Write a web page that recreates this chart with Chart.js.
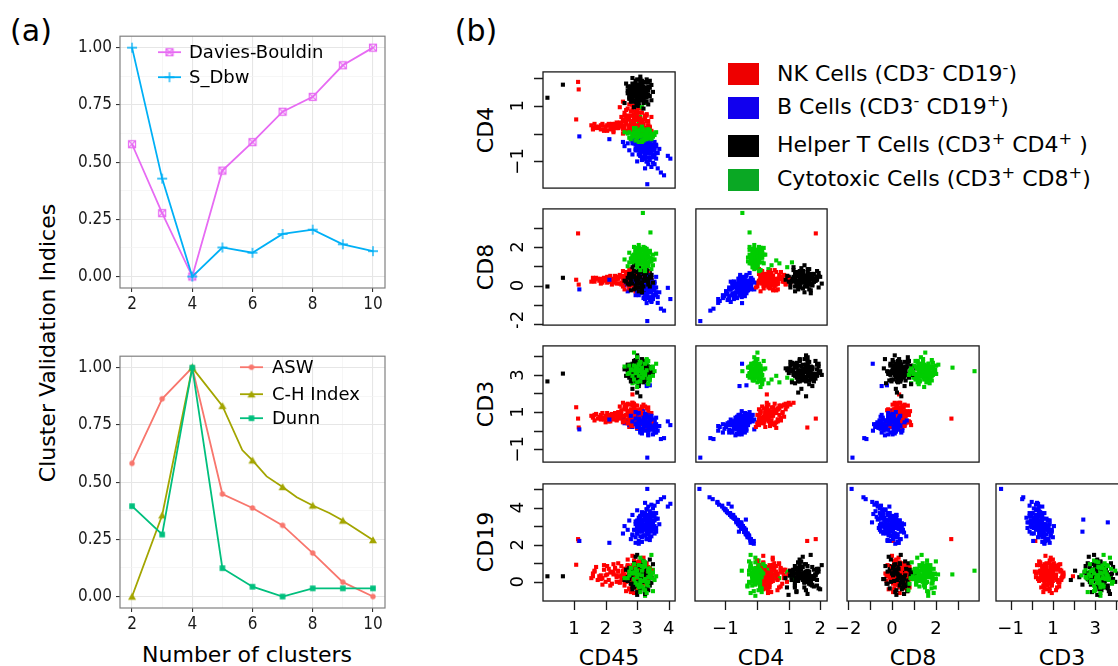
<!DOCTYPE html>
<html>
<head>
<meta charset="utf-8">
<script src="https://cdn.jsdelivr.net/npm/chart.js@4.4.1/dist/chart.umd.min.js"></script>
<style>
  body { margin: 0; background: #fff; }
  #fig { position: relative; width: 1118px; height: 666px; overflow: hidden; background: #fff;
         font-family: "DejaVu Sans", sans-serif; color: #000; }
  #fig canvas { position: absolute; }
  .txt { position: absolute; white-space: nowrap; line-height: 1; transform: translate(-50%, -50%); }
  .vert { position: absolute; white-space: nowrap; line-height: 1; transform: translate(-50%, -50%) rotate(-90deg); }
  .swatch { position: absolute; width: 31px; height: 22px; }
  .key { position: absolute; white-space: nowrap; line-height: 1; transform: translateY(-50%); font-size: 22px; }
  .key sup { font-size: 0.74em; line-height: 0; vertical-align: 0.5em; }
</style>
</head>
<body>
<div id="fig">
  <div class="txt" style="left:31px;top:31px;font-size:30px;">(a)</div>
  <div class="txt" style="left:476px;top:31px;font-size:30px;">(b)</div>
  <div class="vert" style="left:48px;top:343px;font-size:22px;">Cluster Validation Indices</div>
  <div class="txt" style="left:247px;top:655px;font-size:22px;">Number of clusters</div>

  <div class="swatch" style="left:728px;top:63px;background:#ee0000;"></div>
  <div class="swatch" style="left:728px;top:97px;background:#1100ee;"></div>
  <div class="swatch" style="left:728px;top:135px;background:#000000;"></div>
  <div class="swatch" style="left:728px;top:169px;background:#0aa824;"></div>
  <div class="key" style="left:777px;top:74px;">NK Cells (CD3<sup>-</sup> CD19<sup>-</sup>)</div>
  <div class="key" style="left:777px;top:107px;">B Cells (CD3<sup>-</sup> CD19<sup>+</sup>)</div>
  <div class="key" style="left:777px;top:145px;">Helper T Cells (CD3<sup>+</sup> CD4<sup>+</sup> )</div>
  <div class="key" style="left:777px;top:179px;">Cytotoxic Cells (CD3<sup>+</sup> CD8<sup>+</sup>)</div>

  <div class="vert" style="left:486px;top:130px;font-size:22px;">CD4</div>
  <div class="vert" style="left:486px;top:267px;font-size:22px;">CD8</div>
  <div class="vert" style="left:486px;top:404px;font-size:22px;">CD3</div>
  <div class="vert" style="left:486px;top:542px;font-size:22px;">CD19</div>
  <div class="txt" style="left:609px;top:658px;font-size:22px;">CD45</div>
  <div class="txt" style="left:761px;top:658px;font-size:22px;">CD4</div>
  <div class="txt" style="left:913px;top:658px;font-size:22px;">CD8</div>
  <div class="txt" style="left:1062px;top:658px;font-size:22px;">CD3</div>
</div>
<script>
// ---------- (a) cluster validation indices ----------
const clusterCounts = [2, 3, 4, 5, 6, 7, 8, 9, 10];
const daviesBouldin = [0.578, 0.277, 0.0, 0.463, 0.587, 0.720, 0.785, 0.923, 1.0];
const sDbw          = [1.0, 0.428, 0.0, 0.127, 0.104, 0.186, 0.205, 0.141, 0.111];
const asw           = [0.582, 0.864, 1.0, 0.448, 0.387, 0.311, 0.190, 0.063, 0.0];
const chIndex       = [0.0, 0.355, 1.0, 0.833, 0.595, 0.479, 0.398, 0.332, 0.247];
const chBendX       = [5.66, 6.47, 7.47, 8.55];
const chBendY       = [0.640, 0.525, 0.434, 0.365];
const dunn          = [0.395, 0.271, 1.0, 0.124, 0.043, 0.0, 0.036, 0.036, 0.036];

// ---------- (b) marker expression per cell: [CD45, CD4, CD8, CD3, CD19] ----------
const markers = ['CD45', 'CD4', 'CD8', 'CD3', 'CD19'];

const nkCells = [
  [2.80,0.30,0.25,0.80,0.35],[2.60,0.10,0.45,0.55,0.70],[3.00,0.50,0.05,1.00,0.05],[2.90,0.70,0.35,1.20,-0.30],
  [2.70,0.05,0.60,0.40,0.90],[3.10,0.40,-0.15,0.95,0.50],[2.50,0.25,0.15,0.75,0.20],[3.20,0.15,0.50,0.60,-0.10],
  [2.85,0.85,0.20,1.35,0.65],[2.65,0.35,0.70,0.85,-0.50],[3.05,0.00,0.10,0.35,1.10],[2.95,0.60,-0.25,1.10,0.30],
  [2.40,0.20,0.40,0.70,0.55],[3.30,0.45,0.30,0.90,0.15],[2.75,0.55,0.80,1.05,0.80],[2.55,0.00,-0.05,0.45,0.10],
  [3.15,0.75,0.45,1.30,-0.25],[2.85,0.20,0.00,0.65,1.40],[2.45,0.40,0.55,0.90,-0.05],[3.35,0.30,0.20,0.75,0.45],
  [2.70,0.90,0.10,1.45,0.25],[3.00,0.10,0.65,0.50,0.60],[2.60,0.65,-0.20,1.15,0.40],[2.90,0.35,0.35,0.95,-0.60],
  [3.40,0.20,0.00,0.55,0.70],[2.35,0.25,0.30,0.60,0.35],[2.80,0.05,0.85,0.30,0.15],[3.10,0.55,0.15,1.05,1.00],
  [2.65,0.45,0.50,1.25,0.00],[2.95,0.80,0.40,1.00,0.50],[3.25,-0.05,-0.10,0.20,0.25],[2.75,0.30,0.60,0.85,-0.35],
  [2.50,0.60,0.05,1.10,0.85],[3.05,0.25,0.25,0.70,0.20],[2.85,1.00,0.30,1.50,0.40],[2.55,0.15,0.75,0.50,0.60],
  [3.15,0.40,0.55,0.95,-0.15],[2.95,0.10,-0.30,0.40,0.45],[2.70,0.50,0.20,1.00,1.20],[3.30,0.65,0.35,1.20,0.10],
  [2.45,0.35,0.10,0.65,0.30],[3.00,0.75,0.70,1.35,0.55],[2.60,0.20,0.40,0.55,-0.20],[2.90,0.45,0.00,0.90,0.75],
  [3.20,0.30,0.60,0.75,0.35],[2.80,0.65,0.10,1.15,-0.45],[3.45,0.10,0.30,0.45,0.60],[2.65,0.85,0.55,1.40,0.20],
  [3.05,0.50,-0.20,1.00,0.90],[2.75,0.15,0.25,0.60,0.05],
  [2.95,0.25,0.40,1.10,0.20],[2.70,0.55,0.05,0.40,0.60],[3.15,0.10,0.30,0.95,-0.20],[2.85,0.40,0.55,0.25,0.90],
  [3.25,0.65,0.10,0.60,0.45],[2.60,0.30,0.20,1.30,0.00],[3.05,0.75,0.45,0.55,0.75],[2.90,0.00,0.15,0.85,1.15],
  [3.35,0.45,0.65,1.05,0.30],[2.75,0.20,-0.15,0.70,-0.40],[3.00,0.60,0.35,0.15,0.55],[3.20,0.35,0.00,1.40,0.10],
  [2.55,0.50,0.50,0.80,0.40],[3.10,0.15,0.70,0.50,0.85],[2.80,0.80,0.20,0.95,-0.10],[3.40,0.25,0.40,0.65,0.65],
  [2.65,0.05,0.25,1.15,0.25],[2.95,0.50,-0.25,0.35,0.05],[3.30,0.70,0.55,0.85,1.00],[2.85,0.30,0.10,1.50,0.50],
  [3.05,0.40,0.80,0.45,-0.30],[2.70,0.65,0.30,0.60,0.15],[3.15,0.20,0.15,1.20,0.70],[2.50,0.35,0.45,0.90,0.35],
  [3.25,0.55,-0.05,0.30,0.20],[2.90,0.10,0.60,1.00,0.60],[3.00,0.85,0.25,0.75,0.40],[2.80,0.45,0.05,0.55,-0.55],
  [3.35,0.30,0.35,1.25,0.80],[2.65,0.60,0.70,0.45,0.30],[3.10,0.05,0.20,0.80,0.05],[2.95,0.70,0.50,1.35,0.95],
  [2.75,0.25,0.00,0.20,0.45],[3.20,0.50,0.30,0.90,1.30],[2.85,0.15,0.45,0.65,-0.15],[3.05,0.35,-0.10,1.10,0.25],
  [2.60,0.75,0.35,0.70,0.70],[3.30,0.20,0.60,0.50,0.15],[2.90,0.55,0.15,1.45,0.35],[3.15,0.45,0.40,0.35,0.55],
  [2.70,0.10,0.55,1.05,0.85],[3.00,0.30,0.10,0.60,-0.35],[3.45,0.60,0.25,0.95,0.40],[2.80,0.40,0.75,0.85,0.10],
  [3.10,0.90,0.05,1.15,0.65],[2.95,0.20,0.35,0.40,1.05],[2.55,0.45,0.10,0.75,0.50],[3.25,0.15,0.50,1.30,-0.05],
  [2.85,0.65,0.30,0.50,0.30],[3.05,0.30,0.20,0.90,0.75],
  [2.25,0.20,0.35,0.70,0.40],[2.10,0.30,0.20,0.85,0.10],[1.95,0.15,0.40,0.60,0.65],[1.80,0.25,0.25,0.75,0.30],
  [2.20,0.35,0.05,0.90,-0.10],[1.65,0.20,0.30,0.55,0.55],[2.05,0.10,0.45,0.65,0.85],[1.55,0.30,0.20,0.80,0.20],
  [2.30,0.25,0.50,0.95,0.70],[1.90,0.35,0.15,0.70,-0.15],[2.15,0.15,0.30,0.50,0.50],[1.70,0.25,0.40,0.90,0.80],
  [2.35,0.40,0.10,0.80,0.00],[2.00,0.20,0.25,0.45,0.35],[1.85,0.30,0.35,0.85,0.15],[2.25,0.05,0.20,0.60,0.95],
  [1.60,0.15,0.25,0.70,0.45],[2.40,0.30,0.45,1.00,0.60],
  [2.20,0.25,0.25,0.80,0.55],[1.75,0.20,0.35,0.65,0.10],[2.05,0.30,0.15,0.95,0.40],[1.95,0.10,0.30,0.70,0.90],
  [2.35,0.20,0.40,0.55,0.25],[1.65,0.35,0.20,0.85,0.60],[2.15,0.25,0.50,0.75,-0.20],[1.85,0.15,0.10,0.60,0.35],
  [2.30,0.35,0.30,0.90,0.75],[2.00,0.25,0.35,0.80,0.00],[1.60,0.20,0.40,0.75,0.30],[2.25,0.10,0.15,0.65,0.50],
  [1.90,0.30,0.25,0.95,0.20],[2.40,0.20,0.35,0.70,1.00],[2.10,0.35,0.20,0.50,0.70],
  [2.55,1.15,0.35,1.50,0.30],[2.75,1.05,0.15,1.40,0.60],[2.45,0.95,0.50,1.30,0.00],
  [1.13,1.86,2.70,0.65,2.30],[1.07,0.51,0.30,1.26,0.92],[1.15,1.59,0.05,0.17,2.20],[2.85,0.30,0.30,1.95,0.30]
];

const bCells = [
  [3.20,-0.50,-0.10,0.35,3.00],[3.10,-0.65,0.05,0.10,3.25],[3.40,-0.40,-0.30,0.55,2.80],[3.05,-0.75,0.20,0.20,3.45],
  [3.35,-0.30,-0.15,0.70,2.55],[3.15,-0.50,0.20,0.50,3.10],[3.35,-0.45,-0.35,0.15,2.95],[3.20,-0.90,-0.20,0.05,3.70],
  [3.30,-0.20,0.05,0.75,2.30],[3.15,-0.60,0.05,-0.05,3.30],[3.30,-0.40,-0.05,0.85,2.70],[3.05,-0.55,-0.50,0.40,3.15],
  [3.40,-0.45,0.30,0.30,2.85],[3.30,-1.00,-0.45,0.30,3.90],[3.15,-0.15,0.25,0.50,2.15],[3.25,-0.70,-0.05,0.45,3.40],
  [3.00,-0.35,0.10,0.40,2.60],[3.45,-0.55,0.25,0.05,3.00],[3.10,-0.80,0.05,-0.10,3.55],[3.45,-0.25,-0.05,0.60,2.45],
  [3.05,-0.55,-0.20,0.65,3.10],[3.25,-0.45,0.05,0.80,2.90],[3.45,-1.20,-0.80,0.20,4.15],[3.40,-0.60,0.35,0.25,3.30],
  [3.15,-0.40,-0.25,0.50,2.75],[3.35,-0.85,-0.20,0.35,3.60],[2.95,-0.25,0.15,1.00,2.40],[3.30,-0.50,-0.55,0.30,3.05],
  [3.10,-0.45,0.40,0.00,2.95],[3.15,-0.95,-0.40,0.40,3.75],[3.40,-0.20,-0.20,0.75,2.25],[3.20,-0.65,-0.65,0.15,3.35],
  [3.35,-0.35,0.55,0.45,2.65],[3.50,-0.60,0.00,-0.20,3.20],[2.95,-0.40,-0.15,0.65,2.80],[3.75,-1.40,-1.20,-0.45,4.45],
  [3.10,-0.75,-0.10,0.50,3.50],[3.25,-0.30,0.00,0.90,2.50],[3.40,-0.50,0.10,0.55,3.10],[3.00,-0.50,-0.30,0.25,2.95],
  [3.00,-1.00,-0.30,0.20,3.85],[2.85,-0.35,0.25,0.50,2.55],[3.35,-0.70,-0.35,-0.25,3.45],[2.95,-0.60,0.15,0.35,3.25],
  [3.50,-0.40,0.05,0.20,2.80],[3.55,-0.80,-0.50,0.30,3.55],[3.10,-0.25,0.65,0.55,2.45],[3.25,-0.50,-0.45,0.60,3.00],
  [3.35,-1.10,-0.65,0.35,4.05],[3.15,-0.45,0.15,0.10,2.90],[3.25,-0.65,-0.15,0.75,3.30],[2.80,-0.20,0.35,0.80,2.30],
  [3.35,-0.55,0.45,0.00,3.15],[3.25,-0.90,-0.55,0.45,3.70],[3.25,-1.25,-0.70,0.25,4.25],[3.05,-0.40,-0.20,0.95,2.70],
  [3.40,-0.70,0.10,0.10,3.45],[3.30,-0.45,-0.10,0.45,2.85],[3.85,-1.50,-1.30,-0.40,4.55],[3.05,-0.60,-0.30,0.20,3.30],
  [3.35,-0.30,0.25,0.35,2.55],[3.50,-1.05,-0.55,0.10,3.95],[3.20,-0.50,0.30,0.70,3.05],[3.05,-0.10,0.15,0.60,2.05],
  [3.45,-0.85,-0.85,0.35,3.65],
  [3.45,-0.45,0.30,0.70,3.00],[3.00,-0.35,-0.40,0.10,2.60],[3.55,-0.60,0.20,0.50,3.30],[3.25,-0.40,-0.55,0.75,2.80],
  [3.10,-0.80,0.15,-0.05,3.50],[3.40,-0.30,0.05,0.30,2.40],[2.95,-0.55,-0.50,0.85,3.10],[3.60,-0.45,0.45,0.15,2.90],
  [3.50,-0.85,-0.15,0.60,3.70],[3.15,-0.40,0.40,-0.10,2.70],[3.30,-0.60,-0.30,0.40,3.20],[3.05,-0.20,-0.10,0.65,2.20],
  [3.65,-0.70,-0.60,0.25,3.40],[3.20,-0.50,0.00,1.05,3.00],[2.85,-0.25,0.20,0.45,2.50],[3.40,-0.95,-0.75,0.35,3.80],
  [3.35,-0.50,-0.20,-0.20,2.90],[3.00,-0.60,0.35,0.80,3.30],[3.55,-0.30,-0.25,0.55,2.60],[3.25,-0.80,-0.40,0.00,3.60],
  [3.45,-0.55,0.55,0.30,3.10],[3.10,-0.40,-0.05,0.95,2.80],[3.55,-1.10,-0.50,-0.10,4.10],[3.00,-0.45,-0.45,0.20,3.00],
  [3.30,-0.20,0.40,0.70,2.30],[3.40,-0.70,0.05,0.55,3.40],[3.60,-0.40,-0.35,0.35,2.70],[3.15,-0.65,0.10,-0.15,3.20],
  [3.25,-0.45,0.25,0.60,2.90],[3.50,-0.75,-0.70,0.45,3.50],[3.20,-0.30,-0.15,0.90,2.50],[3.55,-0.50,0.10,-0.05,3.00],
  [3.30,-1.00,-0.30,0.20,3.90],[2.90,-0.35,0.50,0.45,2.80],[3.35,-0.60,-0.15,0.85,3.30],[3.70,-0.55,-0.35,0.25,3.10],
  [3.35,-0.35,0.15,0.00,2.60],[3.15,-0.85,0.20,0.40,3.60],[3.40,-0.50,-0.60,0.55,2.90],[3.05,-0.55,0.30,0.15,3.20],
  [3.15,-0.25,0.25,0.50,2.40],[3.60,-0.70,-0.45,0.70,3.40],[3.30,-0.45,0.15,0.40,3.00],[3.45,-0.40,-0.20,0.80,2.70],
  [3.60,-0.90,-0.10,-0.10,3.70],[3.20,-0.60,-0.10,0.60,3.10],[3.00,-0.40,0.05,0.30,2.90],[3.45,-0.65,-0.35,0.10,3.30],
  [3.65,-1.25,-0.90,0.00,4.30],[2.95,-0.15,0.30,0.85,2.10],
  [2.60,-0.45,0.00,0.40,3.00],[2.75,-0.60,-0.20,0.30,3.30],[2.55,-0.30,0.10,0.60,2.60],[2.85,-0.75,0.20,0.20,3.60],
  [2.70,-0.35,-0.30,0.50,2.80],
  [3.32,-1.82,-1.84,-1.45,5.00],[1.17,-0.10,-0.20,0.07,2.20],[3.30,-0.49,-0.91,3.60,3.20],[3.40,-0.35,-0.26,2.44,3.35],
  [3.30,-0.57,-0.50,2.40,2.70],[4.05,-0.90,-0.70,0.30,4.20],[3.97,-0.80,-0.12,0.50,4.05],[2.12,-0.20,0.30,0.60,2.10]
];

const helperTCells = [
  [3.05,1.45,0.30,3.15,0.30],[2.85,1.60,0.10,3.40,0.55],[3.25,1.30,0.50,2.90,0.05],[2.95,1.20,0.35,3.60,-0.20],
  [3.15,1.75,0.05,2.75,0.80],[2.75,1.40,0.60,3.05,0.35],[3.35,1.55,0.20,3.30,-0.45],[3.00,1.05,-0.10,3.50,0.60],
  [3.10,1.90,0.45,2.95,0.10],[2.90,1.35,0.75,3.75,1.00],[3.20,1.10,0.25,2.60,0.45],[2.80,1.70,-0.25,3.20,-0.10],
  [3.30,1.95,0.65,3.45,0.70],[3.00,1.25,0.15,2.85,-0.55],[2.70,1.55,0.40,3.55,0.25],[3.40,1.35,-0.05,3.10,1.20],
  [3.05,1.65,0.85,2.50,0.50],[2.90,0.95,0.50,3.25,-0.30],[3.15,1.50,-0.35,3.85,0.15],[2.65,1.80,0.20,2.95,0.65],
  [3.45,1.20,0.40,3.40,-0.05],[3.10,2.05,0.10,3.00,0.90],[2.85,1.15,0.95,3.10,0.40],[3.25,1.60,0.55,3.70,-0.65],
  [2.95,1.45,-0.15,2.70,1.35],[3.20,0.90,0.30,3.35,0.20],[2.75,1.25,0.05,3.50,0.75],[3.35,1.85,0.35,2.80,0.35],
  [3.00,1.60,0.70,3.95,0.00],[2.85,2.00,0.45,3.20,-0.40],[3.15,1.30,-0.20,3.05,0.55],[3.50,1.50,0.15,3.15,0.95],
  [2.60,1.10,0.25,3.30,0.10],[3.05,1.75,0.55,2.40,-0.15],[2.95,1.35,0.00,3.80,0.45],[3.30,1.15,0.80,3.00,0.65],
  [2.80,1.55,0.35,2.65,0.30],[3.10,1.95,-0.10,3.60,-0.35],[3.20,1.40,0.60,3.25,1.10],[2.70,1.70,0.10,3.45,0.05],
  [3.40,1.65,0.45,2.90,0.25],[3.00,1.00,0.20,3.10,-0.70],[2.90,1.50,1.05,3.35,0.50],[3.25,1.85,0.25,3.75,0.40],
  [3.05,1.20,-0.30,2.55,0.85],[2.85,1.80,0.60,3.05,-0.25],[3.15,1.60,0.15,3.50,0.60],[2.75,1.30,0.50,2.85,0.15],
  [3.35,1.05,0.05,3.20,0.35],[3.00,1.70,0.40,2.95,1.45],[3.10,1.25,0.70,3.65,-0.50],[2.95,1.90,0.30,3.30,0.70],
  [3.20,1.50,-0.05,2.75,0.00],[2.80,1.15,0.20,3.55,0.50],[3.45,1.75,0.55,3.40,0.20],[3.05,1.40,0.90,3.00,0.30],
  [2.90,1.65,-0.20,3.15,-0.10],[3.25,1.35,0.35,2.65,1.00],[3.00,1.55,0.10,4.05,0.45],[2.70,1.45,0.45,3.25,0.80],
  [3.15,1.20,0.60,3.45,-0.30],[3.30,1.60,0.25,3.10,0.55],[2.85,1.40,0.15,2.25,0.25],[3.10,1.55,0.40,1.85,0.10],
  [3.00,1.30,0.20,2.05,0.60],[3.40,1.90,0.75,3.00,-0.20],[2.95,1.05,0.35,3.70,0.35],[3.20,1.70,-0.40,3.35,0.15],
  [2.80,1.60,0.85,3.50,0.40],[3.05,1.35,0.30,2.90,0.65],
  [3.00,1.50,0.25,3.20,0.40],[3.15,1.35,0.40,3.00,0.20],[2.90,1.65,0.15,3.35,0.55],[3.20,1.55,0.50,3.25,0.00],
  [3.05,1.25,0.05,3.40,0.65],[2.95,1.80,0.35,2.90,0.30],[3.25,1.45,0.20,3.55,0.15],[2.85,1.30,0.55,3.10,0.75],
  [3.10,1.70,0.30,2.80,-0.15],[3.00,1.40,0.65,3.45,0.45],[3.30,1.30,0.10,3.15,0.60],[2.80,1.50,0.45,3.30,-0.05],
  [3.15,1.85,0.25,3.05,0.35],[3.05,1.10,0.35,3.65,0.25],[2.95,1.60,-0.05,3.20,0.85],[3.20,1.20,0.55,2.95,0.10],
  [3.10,1.55,0.15,3.50,0.50],[2.90,1.40,0.40,2.75,0.40],[3.35,1.70,0.35,3.35,0.05],[3.00,1.95,0.50,3.10,0.55],
  [2.85,1.25,0.20,3.60,0.20],[3.20,1.35,-0.10,3.00,0.70],[3.05,1.75,0.60,3.40,-0.20],[2.75,1.60,0.30,3.15,0.45],
  [3.15,1.45,0.75,2.85,0.25],[3.25,1.65,0.05,3.70,0.35],[2.95,1.15,0.45,3.25,0.60],[3.10,1.80,0.20,2.65,0.15],
  [3.00,1.35,0.30,3.85,0.80],[3.30,1.50,0.45,3.20,-0.30],[2.90,1.75,0.00,3.30,0.30],[3.05,1.55,0.50,2.90,0.95],
  [3.20,1.25,0.25,3.45,0.45],[2.80,1.45,0.65,3.00,0.10],[3.15,1.90,0.40,3.55,0.50],[3.00,1.20,-0.05,3.10,0.25],
  [3.35,1.40,0.30,2.95,0.65],[2.95,1.70,0.55,3.40,0.00],[3.10,1.30,0.10,3.25,1.05],[3.25,1.85,0.35,3.05,0.40],
  [2.85,1.55,0.25,2.80,0.55],[3.05,1.00,0.45,3.35,0.35],[3.15,1.60,0.70,3.75,0.15],[2.90,1.35,0.15,3.50,0.70],
  [3.20,1.65,0.60,2.70,0.30],
  [0.16,1.29,-0.05,2.65,0.30],[0.65,1.76,0.40,3.07,0.30]
];

const cytotoxicCells = [
  [3.15,-0.05,1.40,3.10,0.35],[2.95,0.05,1.75,3.45,0.70],[3.35,-0.15,1.10,2.80,0.00],[3.05,0.10,1.95,3.25,-0.30],
  [3.25,-0.20,1.30,3.60,0.85],[2.85,0.00,1.55,2.95,0.45],[3.45,-0.10,0.85,3.35,0.20],[3.10,0.15,1.65,2.65,-0.55],
  [3.20,-0.25,2.00,3.05,1.10],[2.75,0.05,1.20,3.50,0.55],[3.30,-0.05,1.80,3.80,-0.10],[3.00,-0.15,0.95,3.15,0.30],
  [3.40,0.10,1.45,2.90,0.65],[3.15,-0.30,1.25,3.40,-0.25],[2.90,0.20,1.60,2.75,0.95],[3.55,-0.05,1.35,3.20,0.10],
  [3.05,-0.10,2.10,3.55,0.40],[3.25,0.05,0.75,3.00,-0.45],[2.80,-0.20,1.40,3.30,0.75],[3.35,0.15,1.70,2.55,0.25],
  [3.10,-0.05,1.15,3.70,1.30],[2.95,-0.25,1.85,3.10,-0.05],[3.50,0.00,1.05,3.45,0.50],[3.20,0.10,1.50,2.85,0.05],
  [3.00,-0.10,1.30,3.95,0.60],[3.30,-0.20,1.90,3.25,-0.60],[2.70,0.00,1.00,3.05,0.20],[3.15,0.25,1.60,3.35,0.85],
  [3.40,-0.15,1.25,2.70,0.40],[2.90,0.05,2.00,3.50,0.15],[3.25,-0.05,0.90,3.15,1.05],[3.05,-0.30,1.45,2.95,-0.20],
  [3.60,0.05,1.65,3.60,0.30],[2.85,-0.10,1.20,3.25,0.50],[3.20,0.15,1.80,3.00,-0.35],[3.35,-0.05,1.05,3.75,0.70],
  [3.00,0.00,1.55,2.60,0.25],[3.45,-0.20,1.35,3.40,1.45],[3.10,0.10,0.80,3.20,-0.10],[2.75,-0.15,1.70,3.10,0.35],
  [3.30,0.00,1.40,3.85,0.00],[3.15,-0.25,1.15,2.85,0.60],[2.95,0.20,1.95,3.30,0.45],[3.50,-0.10,1.60,2.95,-0.50],
  [3.05,0.05,1.25,3.55,0.90],[3.25,-0.15,0.95,3.05,0.15],[2.90,0.00,1.50,4.20,0.50],[3.40,0.10,1.75,2.80,0.30],
  [3.00,-0.05,1.10,3.35,-0.15],[3.20,-0.20,1.55,3.15,0.80],[2.60,0.05,1.35,3.45,0.20],[3.35,0.15,1.20,2.50,0.55],
  [3.10,-0.10,1.85,3.65,0.10],[3.00,0.10,1.45,2.35,0.35],[3.25,-0.05,1.65,3.25,-0.75],
  [3.10,0.00,1.50,3.05,0.45],[3.25,-0.10,1.30,3.30,0.20],[3.00,0.05,1.70,2.90,0.60],[3.35,-0.05,1.20,3.15,0.05],
  [3.15,0.10,1.55,3.50,0.35],[2.95,-0.20,1.35,3.20,0.80],[3.40,0.00,1.80,2.95,0.25],[3.05,-0.05,1.10,3.40,-0.10],
  [3.20,0.15,1.45,2.75,0.55],[3.30,-0.15,1.65,3.60,0.40],[2.90,0.05,1.25,3.10,0.15],[3.15,-0.10,1.90,3.25,0.70],
  [3.45,0.05,1.40,3.00,0.30],[3.00,-0.25,1.60,3.45,0.00],[3.25,0.00,1.05,2.85,0.50],[3.10,0.10,1.75,3.35,0.90],
  [3.35,-0.15,1.50,3.15,-0.20],[2.85,-0.05,1.45,3.55,0.45],[3.20,0.05,1.25,2.65,0.35],[3.05,0.00,1.85,3.00,0.10],
  [3.50,-0.10,1.35,3.30,0.65],[3.15,0.20,1.15,3.75,0.25],[2.95,-0.10,1.65,3.20,0.55],[3.30,0.05,1.55,2.80,-0.05],
  [3.10,-0.20,1.40,3.45,1.00],[3.25,0.10,1.95,3.10,0.40],[3.00,0.00,1.20,3.60,0.20],[3.40,-0.05,1.70,3.05,0.75],
  [3.15,-0.15,1.30,2.90,0.30],[2.90,0.10,1.50,3.35,-0.30],[3.20,-0.05,1.60,3.25,0.60],[3.35,0.00,1.00,3.50,0.15],
  [3.05,0.15,1.45,3.00,0.85],[3.25,-0.10,1.80,2.70,0.45],[3.10,0.00,1.35,3.40,0.05],[2.95,-0.15,1.75,3.15,0.50],
  [3.45,0.05,1.25,3.30,0.35],[3.15,0.05,1.60,2.95,1.15],[3.00,-0.05,1.40,3.70,0.25],[3.30,0.10,1.50,3.20,-0.15],
  [3.20,-0.20,1.15,3.05,0.70],[3.05,0.00,1.85,3.45,0.30],[3.35,-0.05,1.45,2.85,0.55],[2.85,0.05,1.30,3.25,0.10],
  [3.10,-0.10,1.70,3.35,0.45],
  [3.05,0.45,1.05,2.75,0.40],[2.95,0.70,1.15,2.60,0.20],[3.15,0.95,0.95,2.85,0.55],[3.25,1.10,1.20,2.70,0.10],
  [2.85,0.35,0.85,2.55,0.65],[3.10,0.60,1.30,2.95,0.30],
  [3.18,-0.48,3.76,3.20,0.60],[3.42,-0.25,2.75,3.39,0.40]
];

// axis limits and tick marks for each marker (same limits used on x and y)
const axisMin = [0.02, -1.96, -2.05, -1.69, -1.03];
const axisMax = [4.20, 2.22, 3.97, 4.56, 5.27];
const tickValues = [[1, 2, 3, 4], [-1, 0, 1, 2], [-2, -1, 0, 1, 2, 3], [-1, 0, 1, 2, 3, 4], [0, 1, 2, 3, 4, 5]];
const xTickLabels = { CD45: [1, 2, 3, 4], CD4: [-1, 1, 2], CD8: [-2, 0, 2], CD3: [-1, 1, 3] };
const yTickLabels = { CD4: [1, -1], CD8: [2, 0, -2], CD3: [3, 1, -1], CD19: [4, 2, 0] };

// ---------- page geometry ----------
const fig = document.getElementById('fig');
function addCanvas(left, top, w, h) {
  const c = document.createElement('canvas');
  c.width = w; c.height = h;
  c.style.left = left + 'px'; c.style.top = top + 'px';
  c.style.width = w + 'px'; c.style.height = h + 'px';
  fig.appendChild(c);
  return c;
}

// ---------- marker glyphs for the index lines ----------
function glyph(size, draw) {
  const c = document.createElement('canvas');
  c.width = size; c.height = size;
  draw(c.getContext('2d'), size);
  return c;
}
const colDB = '#E76BF3', colSD = '#00B0F6', colASW = '#F8766D', colCH = '#A3A500', colDunn = '#00BF7D';
const glyphDB = glyph(10, g => {
  g.strokeStyle = colDB; g.lineWidth = 1.2;
  g.strokeRect(1.5, 1.5, 7, 7);
  g.beginPath(); g.moveTo(1.5, 1.5); g.lineTo(8.5, 8.5); g.moveTo(8.5, 1.5); g.lineTo(1.5, 8.5); g.stroke();
});
const glyphSD = glyph(12, g => {
  g.strokeStyle = colSD; g.lineWidth = 1.3;
  g.beginPath(); g.moveTo(1, 6); g.lineTo(11, 6); g.moveTo(6, 1); g.lineTo(6, 11); g.stroke();
});
const glyphASW = glyph(8, g => { g.fillStyle = colASW; g.beginPath(); g.arc(4, 4, 2.7, 0, Math.PI * 2); g.fill(); });
const glyphCH = glyph(10, g => {
  g.fillStyle = colCH; g.beginPath(); g.moveTo(5, 1.2); g.lineTo(9, 8.2); g.lineTo(1, 8.2); g.closePath(); g.fill();
});
const glyphDunn = glyph(8, g => { g.fillStyle = colDunn; g.fillRect(1.2, 1.2, 5.6, 5.6); });

function series(values) { return clusterCounts.map((k, i) => ({ x: k, y: values[i] })); }
function chPath() {
  const pts = series(chIndex).concat(chBendX.map((x, i) => ({ x: x, y: chBendY[i] })));
  return pts.sort((a, b) => a.x - b.x);
}

const tickFontA = { family: '"DejaVu Sans Condensed", "DejaVu Sans", sans-serif', size: 17 };
const majorX = v => v % 2 === 0;
const majorY = v => Math.abs(v * 4 - Math.round(v * 4)) < 1e-6;

const panelFrame = {
  id: 'panelFrame',
  afterDatasetsDraw(chart) {
    const { ctx, chartArea: a } = chart;
    ctx.save();
    ctx.strokeStyle = '#808080'; ctx.lineWidth = 1.2;
    ctx.strokeRect(a.left, a.top, a.right - a.left, a.bottom - a.top);
    ctx.restore();
  }
};

const seriesKey = {
  id: 'seriesKey',
  afterDraw(chart, args, opts) {
    const { ctx, chartArea: a } = chart;
    ctx.save();
    ctx.font = '18px "DejaVu Sans", sans-serif';
    ctx.textBaseline = 'middle'; ctx.textAlign = 'left'; ctx.fillStyle = '#000';
    opts.rows.forEach(row => {
      const ds = chart.data.datasets[row.dataset];
      const y = a.top + row.y;
      ctx.strokeStyle = ds.borderColor; ctx.lineWidth = ds.borderWidth;
      ctx.beginPath(); ctx.moveTo(a.left + opts.x1, y); ctx.lineTo(a.left + opts.x2, y); ctx.stroke();
      const img = ds.keyGlyph;
      ctx.drawImage(img, a.left + (opts.x1 + opts.x2) / 2 - img.width / 2, y - img.height / 2);
      ctx.fillText(ds.label, a.left + opts.tx, y + 1);
    });
    ctx.restore();
  }
};

function lineSet(label, data, color, img, order) {
  return {
    label: label, data: data, borderColor: color, backgroundColor: color, borderWidth: 1.8,
    pointStyle: img, keyGlyph: img, order: order, tension: 0, fill: false,
    pointRadius: ctx => (ctx.raw && Number.isInteger(ctx.raw.x) ? 4 : 0)
  };
}

function indexChart(top, datasets, keyOpts) {
  const cv = addCanvas(60, top, 335, 296);
  return new Chart(cv, {
    type: 'line',
    data: { datasets: datasets },
    plugins: [panelFrame, seriesKey],
    options: {
      responsive: false, animation: false, devicePixelRatio: 1,
      layout: { padding: { left: 0, top: 10, right: 10, bottom: 0 } },
      plugins: { legend: { display: false }, tooltip: { enabled: false }, seriesKey: keyOpts },
      scales: {
        x: {
          type: 'linear', min: 1.6, max: 10.4,
          afterBuildTicks: s => { s.ticks = [2, 3, 4, 5, 6, 7, 8, 9, 10].map(v => ({ value: v })); },
          afterFit: s => { s.height = 30; },
          ticks: { autoSkip: false, maxRotation: 0, padding: 2, color: '#1a1a1a', font: tickFontA,
                   callback: v => (majorX(v) ? String(v) : '') },
          grid: {
            color: c => (c.tick && majorX(c.tick.value) ? '#e6e6e6' : '#f2f2f2'),
            lineWidth: c => (c.tick && majorX(c.tick.value) ? 1.1 : 0.7),
            tickColor: c => (c.tick && majorX(c.tick.value) ? '#333' : 'rgba(0,0,0,0)'),
            tickLength: 4, drawTicks: true
          },
          border: { display: false }
        },
        y: {
          type: 'linear', min: -0.05, max: 1.05,
          afterBuildTicks: s => { s.ticks = [0, 0.125, 0.25, 0.375, 0.5, 0.625, 0.75, 0.875, 1].map(v => ({ value: v })); },
          afterFit: s => { s.width = 60; },
          ticks: { autoSkip: false, padding: 4, color: '#1a1a1a', font: tickFontA,
                   callback: v => (majorY(v) ? v.toFixed(2) : '') },
          grid: {
            color: c => (c.tick && majorY(c.tick.value) ? '#e6e6e6' : '#f2f2f2'),
            lineWidth: c => (c.tick && majorY(c.tick.value) ? 1.1 : 0.7),
            tickColor: c => (c.tick && majorY(c.tick.value) ? '#333' : 'rgba(0,0,0,0)'),
            tickLength: 4, drawTicks: true
          },
          border: { display: false }
        }
      }
    }
  });
}

indexChart(22, [
  lineSet('Davies-Bouldin', series(daviesBouldin), colDB, glyphDB, 2),
  lineSet('S_Dbw', series(sDbw), colSD, glyphSD, 1)
], { x1: 38, x2: 61, tx: 69, rows: [{ dataset: 0, y: 16 }, { dataset: 1, y: 41 }] });

indexChart(342, [
  lineSet('ASW', series(asw), colASW, glyphASW, 3),
  lineSet('C-H Index', chPath(), colCH, glyphCH, 2),
  lineSet('Dunn', series(dunn), colDunn, glyphDunn, 1)
], { x1: 120, x2: 143, tx: 152, rows: [{ dataset: 0, y: 11 }, { dataset: 1, y: 38 }, { dataset: 2, y: 62 }] });

// ---------- (b) pairwise scatter matrix ----------
const colLeft = [543, 695, 847, 996];
const rowTop = [71, 208, 345, 483];
const boxW = 133, boxH = 118;

const cellGroups = [
  { cells: nkCells, color: '#ff0000' },
  { cells: bCells, color: '#0000ff' },
  { cells: helperTCells, color: '#000000' },
  { cells: cytotoxicCells, color: '#00cd00' }
];

function fmtTick(v) { return v < 0 ? '\u2212' + Math.abs(v) : String(v); }

const scatterFrame = {
  id: 'scatterFrame',
  afterDraw(chart, args, o) {
    const { ctx, chartArea: a, scales: { x, y } } = chart;
    ctx.save();
    ctx.strokeStyle = '#1a1a1a'; ctx.lineWidth = 1.3;
    ctx.strokeRect(a.left, a.top, a.right - a.left, a.bottom - a.top);
    ctx.fillStyle = '#000'; ctx.font = '18px "DejaVu Sans", sans-serif';
    ctx.textAlign = 'center'; ctx.textBaseline = 'middle';
    if (o.showX) {
      ctx.beginPath();
      tickValues[o.xi].forEach(v => {
        const px = Math.round(x.getPixelForValue(v)) + 0.5;
        ctx.moveTo(px, a.bottom); ctx.lineTo(px, a.bottom + 9);
      });
      ctx.stroke();
      xTickLabels[markers[o.xi]].forEach(v => ctx.fillText(fmtTick(v), x.getPixelForValue(v), a.bottom + 28));
    }
    if (o.showY) {
      ctx.beginPath();
      tickValues[o.yi].forEach(v => {
        const py = Math.round(y.getPixelForValue(v)) + 0.5;
        ctx.moveTo(a.left, py); ctx.lineTo(a.left - 9, py);
      });
      ctx.stroke();
      yTickLabels[markers[o.yi]].forEach(v => {
        ctx.save();
        ctx.translate(a.left - 25, y.getPixelForValue(v));
        ctx.rotate(-Math.PI / 2);
        ctx.fillText(fmtTick(v), 0, 0);
        ctx.restore();
      });
    }
    ctx.restore();
  }
};

function scatterSets(xi, yi) {
  const halves = [[], []];
  cellGroups.forEach(g => {
    const mid = Math.ceil(g.cells.length / 2);
    [g.cells.slice(0, mid), g.cells.slice(mid)].forEach((part, h) => {
      halves[h].push({
        data: part.map(c => ({ x: c[xi], y: c[yi] })),
        backgroundColor: g.color, borderColor: g.color,
        pointStyle: 'rect', pointRadius: 2.9, pointBorderWidth: 0, pointHoverRadius: 2.9
      });
    });
  });
  // later datasets are painted first, so the second halves sit underneath
  return halves[1].concat(halves[0]).reverse();
}

for (let r = 0; r < 4; r++) {
  const yi = r + 1;
  for (let c = 0; c <= r; c++) {
    const xi = c;
    const padL = c === 0 ? 70 : (r === 3 ? 22 : 2);
    const padB = r === 3 ? 42 : 2, padT = 2, padR = 2;
    const cv = addCanvas(colLeft[c] - padL, rowTop[r] - padT, boxW + padL + padR, boxH + padT + padB);
    new Chart(cv, {
      type: 'scatter',
      data: { datasets: scatterSets(xi, yi) },
      plugins: [scatterFrame],
      options: {
        responsive: false, animation: false, devicePixelRatio: 1,
        layout: { padding: { left: padL, right: padR, top: padT, bottom: padB } },
        plugins: { legend: { display: false }, tooltip: { enabled: false },
                   scatterFrame: { showX: r === 3, showY: c === 0, xi: xi, yi: yi } },
        scales: {
          x: { type: 'linear', min: axisMin[xi], max: axisMax[xi], display: false },
          y: { type: 'linear', min: axisMin[yi], max: axisMax[yi], display: false }
        }
      }
    });
  }
}
</script>
</body>
</html>
